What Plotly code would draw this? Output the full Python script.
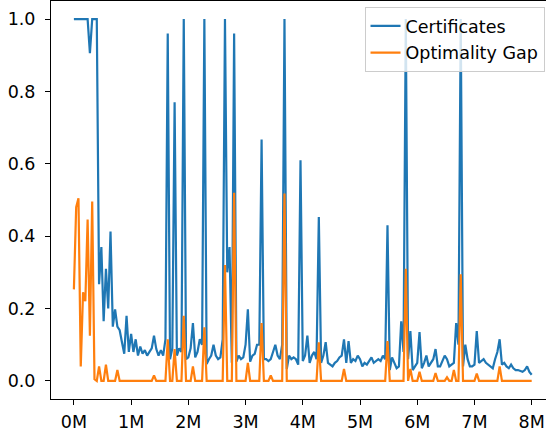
import plotly.graph_objects as go

steps = list(range(0, 8_000_001, 40_000))

certificates = [
    1.0, 1.0, 1.0, 1.0, 1.0, 1.0, 1.0, 0.906, 1.0, 1.0,
    1.0, 0.267, 0.37, 0.165, 0.31, 0.2, 0.413, 0.15, 0.198, 0.15,
    0.14, 0.107, 0.075, 0.18, 0.08, 0.13, 0.08, 0.115, 0.07, 0.095,
    0.075, 0.085, 0.07, 0.08, 0.09, 0.125, 0.088, 0.07, 0.085, 0.07,
    0.115, 0.96, 0.06, 0.09, 0.77, 0.07, 0.09, 0.08, 1.0, 0.06,
    0.065, 0.09, 0.16, 0.065, 0.08, 0.115, 0.1, 1.0, 0.047, 0.06,
    0.07, 0.1, 0.07, 0.06, 0.065, 0.115, 1.0, 0.3, 0.37, 0.05,
    0.96, 0.053, 0.07, 0.06, 0.065, 0.1, 0.198, 0.053, 0.07, 0.075,
    0.1, 0.1, 0.667, 0.06, 0.06, 0.055, 0.06, 0.08, 0.1, 0.07,
    0.06, 0.1, 1.0, 0.033, 0.07, 0.06, 0.065, 0.06, 0.045, 0.61,
    0.055, 0.07, 0.125, 0.05, 0.07, 0.08, 0.06, 0.453, 0.05, 0.07,
    0.107, 0.05, 0.045, 0.04, 0.05, 0.055, 0.065, 0.07, 0.115, 0.05,
    0.11, 0.05, 0.06, 0.055, 0.07, 0.06, 0.04, 0.05, 0.045, 0.055,
    0.065, 0.05, 0.055, 0.06, 0.055, 0.07, 0.06, 0.43, 0.03, 0.065,
    0.05, 0.035, 0.04, 0.165, 0.08, 1.0, 0.06, 0.138, 0.03, 0.04,
    0.05, 0.135, 0.035, 0.05, 0.07, 0.04, 0.05, 0.06, 0.088, 0.04,
    0.04, 0.055, 0.07, 0.06, 0.04, 0.045, 0.05, 0.16, 0.1, 1.0,
    0.04, 0.1, 0.06, 0.04, 0.04, 0.045, 0.138, 0.05, 0.055, 0.06,
    0.05, 0.045, 0.04, 0.035, 0.06, 0.08, 0.115, 0.045, 0.05, 0.04,
    0.035, 0.045, 0.035, 0.03, 0.03, 0.028, 0.025, 0.03, 0.04, 0.025,
    0.017,
]

optimality_gap = [
    0.253, 0.48, 0.505, 0.04, 0.245, 0.22, 0.446, 0.125, 0.496, 0.005,
    0.0, 0.04, 0.0, 0.0, 0.045, 0.0, 0.0, 0.0, 0.0, 0.03,
    0.0, 0.0, 0.0, 0.0, 0.0, 0.0, 0.0, 0.0, 0.0, 0.0,
    0.0, 0.0, 0.0, 0.0, 0.0, 0.015, 0.0, 0.0, 0.0, 0.0,
    0.0, 0.115, 0.0, 0.0, 0.088, 0.0, 0.0, 0.0, 0.18, 0.0,
    0.0, 0.0, 0.04, 0.0, 0.0, 0.0, 0.0, 0.148, 0.0, 0.0,
    0.0, 0.0, 0.0, 0.0, 0.0, 0.0, 0.32, 0.0, 0.0, 0.0,
    0.52, 0.0, 0.0, 0.0, 0.0, 0.0, 0.05, 0.0, 0.0, 0.0,
    0.0, 0.0, 0.16, 0.0, 0.0, 0.0, 0.015, 0.0, 0.0, 0.0,
    0.0, 0.0, 0.518, 0.0, 0.0, 0.0, 0.0, 0.0, 0.0, 0.0,
    0.0, 0.0, 0.0, 0.0, 0.0, 0.0, 0.0, 0.107, 0.0, 0.0,
    0.0, 0.0, 0.0, 0.0, 0.0, 0.0, 0.0, 0.0, 0.033, 0.0,
    0.0, 0.0, 0.0, 0.0, 0.0, 0.0, 0.0, 0.0, 0.0, 0.0,
    0.0, 0.0, 0.0, 0.0, 0.0, 0.0, 0.0, 0.11, 0.0, 0.0,
    0.0, 0.0, 0.0, 0.0, 0.0, 0.31, 0.0, 0.033, 0.0, 0.0,
    0.0, 0.025, 0.0, 0.0, 0.0, 0.0, 0.0, 0.0, 0.022, 0.0,
    0.0, 0.0, 0.0, 0.01, 0.0, 0.0, 0.03, 0.0, 0.0, 0.295,
    0.0, 0.0, 0.0, 0.0, 0.0, 0.0, 0.02, 0.0, 0.0, 0.0,
    0.0, 0.0, 0.0, 0.0, 0.0, 0.0, 0.04, 0.0, 0.0, 0.0,
    0.0, 0.0, 0.0, 0.0, 0.0, 0.0, 0.0, 0.0, 0.0, 0.0,
    0.0,
]

x_tick_vals = [0, 1e6, 2e6, 3e6, 4e6, 5e6, 6e6, 7e6, 8e6]
x_tick_text = ["0M", "1M", "2M", "3M", "4M", "5M", "6M", "7M", "8M"]
y_tick_vals = [0.0, 0.2, 0.4, 0.6, 0.8, 1.0]

FONT = "DejaVu Sans"
FS = 17.5

fig = go.Figure()
fig.add_trace(go.Scatter(x=steps, y=certificates, mode="lines", name="Certificates",
                         legendgroup="a", line=dict(color="#1f77b4", width=2.2)))
fig.add_trace(go.Scatter(x=steps, y=optimality_gap, mode="lines", name="Optimality Gap",
                         legendgroup="b", line=dict(color="#ff7f0e", width=2.2)))

fig.update_layout(
    width=546, height=436,
    margin=dict(l=50.5, r=0, t=1, b=36.7),
    paper_bgcolor="white", plot_bgcolor="white",
    font=dict(family=FONT, size=FS, color="#000000"),
    showlegend=True,
    legend=dict(x=0.997, y=0.985, xanchor="right", yanchor="top",
                bgcolor="rgba(255,255,255,0.8)", bordercolor="#cccccc", borderwidth=1,
                font=dict(family=FONT, size=FS), tracegroupgap=1),
    xaxis=dict(range=[-0.4e6, 8.25e6], tickvals=x_tick_vals, ticktext=x_tick_text,
               showgrid=False, zeroline=False, showline=True, linecolor="black",
               linewidth=1, mirror=True, ticks="outside", ticklen=5, tickcolor="black",
               tickfont=dict(family=FONT, size=FS), ticklabelstandoff=2),
    yaxis=dict(range=[-0.05, 1.05], tickvals=y_tick_vals, tickformat=".1f",
               showgrid=False, zeroline=False, showline=True, linecolor="black",
               linewidth=1, ticks="outside", ticklen=5, tickcolor="black",
               tickfont=dict(family=FONT, size=FS), ticklabelstandoff=6),
)

fig.write_html("out.html", config={"displayModeBar": False},
               post_script="document.body.style.margin='0';document.body.style.overflow='hidden';")
